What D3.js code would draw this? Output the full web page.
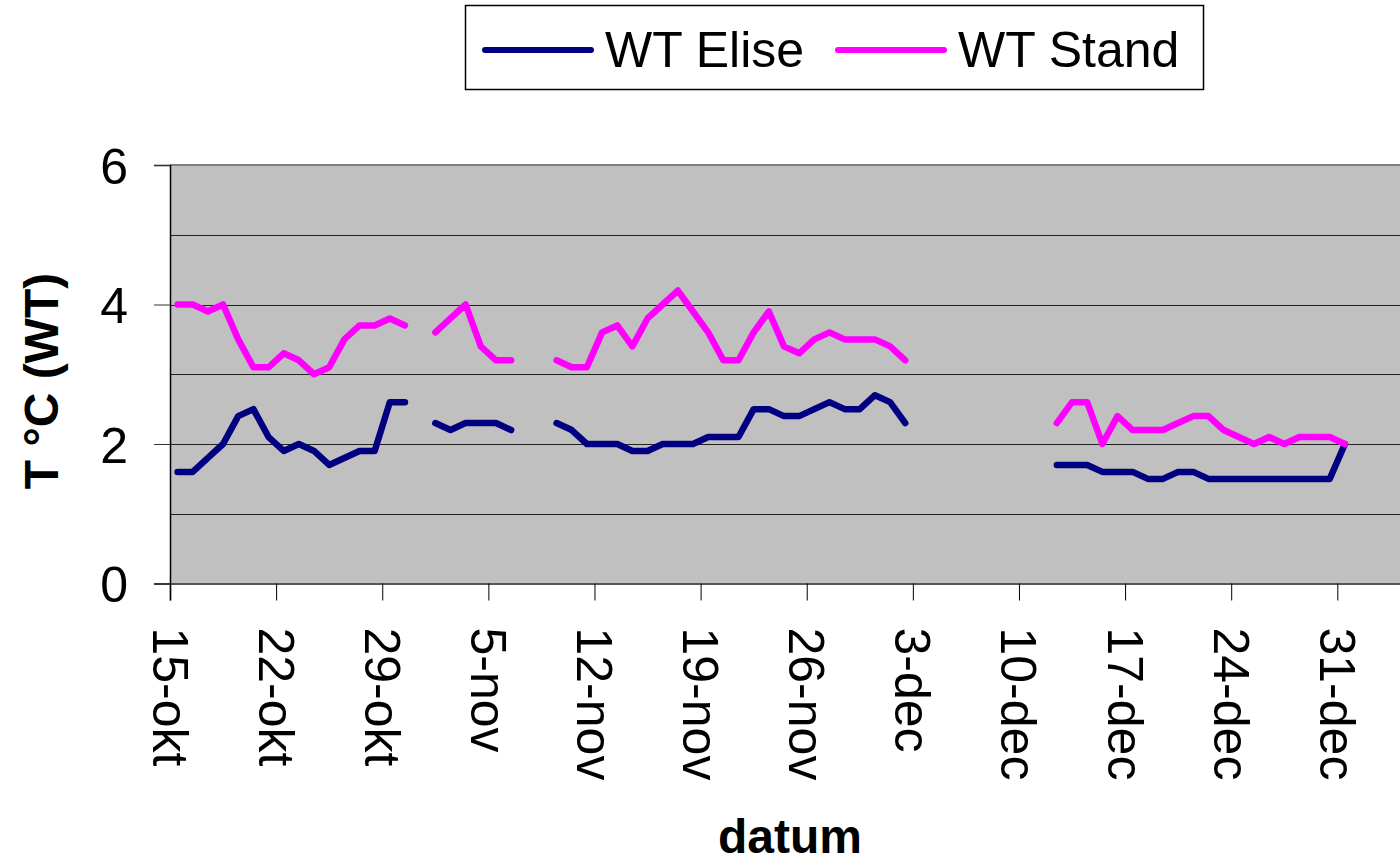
<!DOCTYPE html>
<html>
<head>
<meta charset="utf-8">
<script src="https://cdn.jsdelivr.net/npm/d3@7"></script>
<style>
  body { margin: 0; background: #fff; }
  svg { display: block; font-family: "Liberation Sans", Arial, sans-serif; }
</style>
</head>
<body>
<svg id="chart"></svg>
<script>
// one value per day starting 15 oktober, null = no measurement
const startDate = new Date(2006, 9, 15);
const wtElise = [
  1.6, 1.6, 1.8, 2.0, 2.4, 2.5, 2.1, 1.9, 2.0, 1.9, 1.7, 1.8, 1.9, 1.9, 2.6, 2.6,
  null,
  2.3, 2.2, 2.3, 2.3, 2.3, 2.2,
  null, null,
  2.3, 2.2, 2.0, 2.0, 2.0, 1.9, 1.9, 2.0, 2.0, 2.0, 2.1, 2.1, 2.1, 2.5, 2.5, 2.4,
  2.4, 2.5, 2.6, 2.5, 2.5, 2.7, 2.6, 2.3,
  null, null, null, null, null, null, null, null, null,
  1.7, 1.7, 1.7, 1.6, 1.6, 1.6, 1.5, 1.5, 1.6, 1.6, 1.5, 1.5, 1.5, 1.5, 1.5, 1.5,
  1.5, 1.5, 1.5, 2.0
];
const wtStand = [
  4.0, 4.0, 3.9, 4.0, 3.5, 3.1, 3.1, 3.3, 3.2, 3.0, 3.1, 3.5, 3.7, 3.7, 3.8, 3.7,
  null,
  3.6, 3.8, 4.0, 3.4, 3.2, 3.2,
  null, null,
  3.2, 3.1, 3.1, 3.6, 3.7, 3.4, 3.8, 4.0, 4.2, 3.9, 3.6, 3.2, 3.2, 3.6, 3.9, 3.4,
  3.3, 3.5, 3.6, 3.5, 3.5, 3.5, 3.4, 3.2,
  null, null, null, null, null, null, null, null, null,
  2.3, 2.6, 2.6, 2.0, 2.4, 2.2, 2.2, 2.2, 2.3, 2.4, 2.4, 2.2, 2.1, 2.0, 2.1, 2.0,
  2.1, 2.1, 2.1, 2.0
];
const seriesNames = ['WT Elise', 'WT Stand'];
const tickLabels = ['15-okt', '22-okt', '29-okt', '5-nov', '12-nov', '19-nov',
  '26-nov', '3-dec', '10-dec', '17-dec', '24-dec', '31-dec'];
const yTicks = [0, 2, 4, 6];

const W = 1400, H = 866;
const plotLeft = 170, plotTop = 165, plotBottom = 583.5;
const dayW = 15.16;
const nDays = 82;

const svg = d3.select('#chart').attr('width', W).attr('height', H);

const x = d3.scaleTime()
  .domain([startDate, d3.timeDay.offset(startDate, nDays)])
  .range([plotLeft, plotLeft + nDays * dayW]);

const y = d3.scaleLinear().domain([0, 6]).range([plotBottom, plotTop]);

const dayOf = i => d3.timeHour.offset(d3.timeDay.offset(startDate, i), 12);

// plot area
svg.append('rect')
  .attr('x', plotLeft).attr('y', plotTop)
  .attr('width', W - plotLeft).attr('height', plotBottom - plotTop)
  .attr('fill', '#c0c0c0');

// gridlines
svg.append('g')
  .selectAll('line')
  .data(d3.range(1, 6))
  .join('line')
  .attr('x1', plotLeft).attr('x2', W)
  .attr('y1', d => Math.round(y(d)) + 0.5).attr('y2', d => Math.round(y(d)) + 0.5)
  .attr('stroke', '#222').attr('stroke-width', 1);

// top border
svg.append('line')
  .attr('x1', plotLeft).attr('x2', W)
  .attr('y1', plotTop).attr('y2', plotTop)
  .attr('stroke', '#808080').attr('stroke-width', 2);

// x axis
const tickDates = tickLabels.map((t, i) => d3.timeDay.offset(startDate, i * 7));
const xAxis = svg.append('g')
  .attr('transform', `translate(0,${plotBottom})`)
  .call(d3.axisBottom(x).tickValues(tickDates).tickSize(17)
    .tickFormat((d, i) => tickLabels[i]));
xAxis.select('.domain').attr('stroke', '#555').attr('stroke-width', 2);
xAxis.selectAll('.tick line').attr('stroke', '#000');
xAxis.selectAll('text')
  .attr('font-size', 50)
  .attr('fill', '#000')
  .attr('transform', 'rotate(90)')
  .attr('text-anchor', 'start')
  .attr('x', 44)
  .attr('y', 0)
  .attr('dy', '0.36em');

// y axis
const yAxis = svg.append('g')
  .attr('transform', `translate(${plotLeft},0)`)
  .call(d3.axisLeft(y).tickValues(yTicks).tickSize(16).tickFormat(d3.format('d')));
yAxis.select('.domain').attr('stroke', '#000').attr('stroke-width', 1.5);
yAxis.selectAll('.tick line').attr('stroke', '#333');
yAxis.selectAll('text')
  .attr('font-size', 50)
  .attr('fill', '#000')
  .attr('x', -42)
  .attr('dy', '0.36em');

// lines
const line = d3.line()
  .defined(d => d != null)
  .x((d, i) => x(dayOf(i)))
  .y(d => y(d));

const colors = ['#000080', '#ff00ff'];
[wtElise, wtStand].forEach((s, k) => {
  svg.append('path')
    .datum(s)
    .attr('fill', 'none')
    .attr('stroke', colors[k])
    .attr('stroke-width', 6.5)
    .attr('stroke-linejoin', 'round')
    .attr('stroke-linecap', 'round')
    .attr('d', line);
});

// axis titles
svg.append('text')
  .attr('transform', 'translate(58,381) rotate(-90)')
  .attr('text-anchor', 'middle')
  .attr('font-size', 48)
  .attr('font-weight', 'bold')
  .text('T °C (WT)');

svg.append('text')
  .attr('x', 790).attr('y', 853)
  .attr('text-anchor', 'middle')
  .attr('font-size', 48)
  .attr('font-weight', 'bold')
  .text('datum');

// legend
const lg = svg.append('g');
lg.append('rect')
  .attr('x', 465.5).attr('y', 5.5)
  .attr('width', 738).attr('height', 84)
  .attr('fill', '#fff').attr('stroke', '#000').attr('stroke-width', 1.5);
const legendX = [485, 838];
seriesNames.forEach((name, k) => {
  lg.append('line')
    .attr('x1', legendX[k]).attr('x2', legendX[k] + 106)
    .attr('y1', 50).attr('y2', 50)
    .attr('stroke', colors[k]).attr('stroke-width', 6)
    .attr('stroke-linecap', 'round');
  lg.append('text')
    .attr('x', legendX[k] + 120).attr('y', 67)
    .attr('font-size', 50)
    .text(name);
});
</script>
</body>
</html>
